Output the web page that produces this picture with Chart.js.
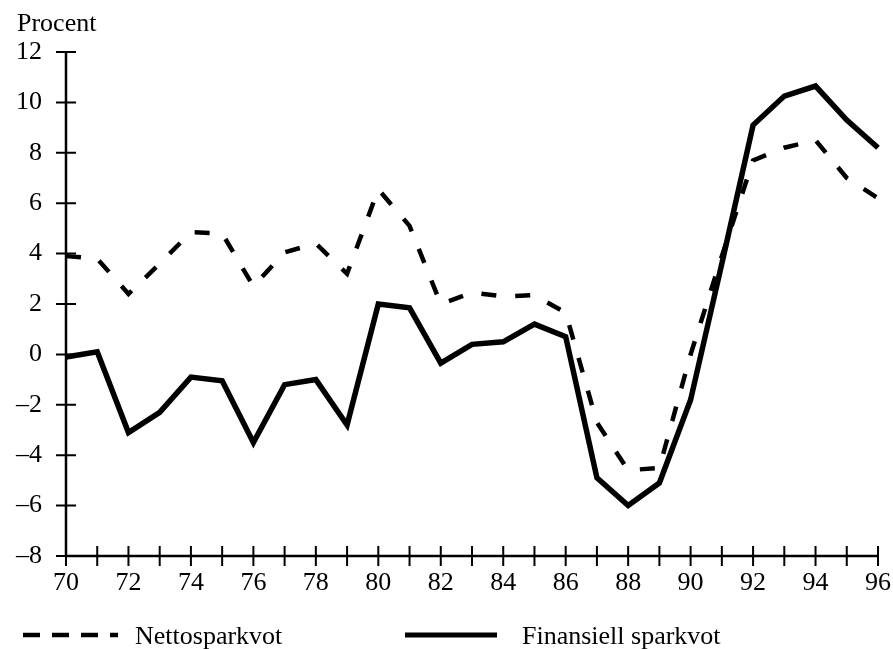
<!DOCTYPE html>
<html>
<head>
<meta charset="utf-8">
<script src="https://cdn.jsdelivr.net/npm/chart.js@4/dist/chart.umd.min.js"></script>
<style>
  html, body { margin: 0; padding: 0; background: #ffffff; }
  #wrap { width: 893px; height: 649px; position: relative; }
  canvas { display: block; }
</style>
</head>
<body>
<div id="wrap"><canvas id="c" width="893" height="649"></canvas></div>
<script>
// ---- Data ----
const years = ['70','71','72','73','74','75','76','77','78','79','80','81','82','83','84','85','86','87','88','89','90','91','92','93','94','95','96'];
const nettosparkvot = [3.9, 3.8, 2.4, 3.6, 4.85, 4.8, 2.7, 4.05, 4.4, 3.2, 6.55, 5.1, 2.0, 2.45, 2.3, 2.35, 1.65, -2.7, -4.6, -4.5, 0.0, 3.9, 7.7, 8.2, 8.5, 7.0, 6.2];
const finansiellSparkvot = [-0.1, 0.1, -3.1, -2.3, -0.9, -1.05, -3.5, -1.2, -1.0, -2.8, 2.0, 1.85, -0.35, 0.4, 0.5, 1.2, 0.7, -4.9, -6.0, -5.1, -1.8, 3.6, 9.1, 10.25, 10.65, 9.3, 8.2];
const seriesNames = ['Nettosparkvot', 'Finansiell sparkvot'];
const yTicks = [-8, -6, -4, -2, 0, 2, 4, 6, 8, 10, 12];
const yTitle = 'Procent';

const FONT = '"Liberation Serif", "Times New Roman", serif';

const axesPlugin = {
  id: 'axesPlugin',
  afterDraw(chart) {
    const ctx = chart.ctx;
    const xs = chart.scales.x, ys = chart.scales.y;
    const left = chart.chartArea.left, bottom = chart.chartArea.bottom;
    const top = ys.getPixelForValue(yTicks[yTicks.length - 1]);
    const right = xs.getPixelForValue(years.length - 1);
    ctx.save();
    ctx.strokeStyle = '#000';
    ctx.lineCap = 'butt';
    // axis lines
    ctx.lineWidth = 2.5;
    ctx.beginPath();
    ctx.moveTo(left, top); ctx.lineTo(left, bottom);
    ctx.moveTo(left, bottom); ctx.lineTo(right, bottom);
    ctx.stroke();
    // cross ticks
    ctx.lineWidth = 2;
    ctx.beginPath();
    yTicks.forEach(v => {
      const y = ys.getPixelForValue(v);
      ctx.moveTo(left - 10, y); ctx.lineTo(left + 10, y);
    });
    years.forEach((_, i) => {
      const x = xs.getPixelForValue(i);
      ctx.moveTo(x, bottom - 10); ctx.lineTo(x, bottom + 10);
    });
    ctx.stroke();
    // y title
    ctx.fillStyle = '#000';
    ctx.font = '26px ' + FONT;
    ctx.textAlign = 'left';
    ctx.textBaseline = 'alphabetic';
    ctx.fillText(yTitle, 17, 31);
    // legend
    const ly = 635;
    ctx.lineWidth = 4.5;
    ctx.setLineDash([17, 12]);
    ctx.beginPath(); ctx.moveTo(23, ly); ctx.lineTo(118, ly); ctx.stroke();
    ctx.setLineDash([]);
    ctx.lineWidth = 5;
    ctx.beginPath(); ctx.moveTo(405, ly); ctx.lineTo(497, ly); ctx.stroke();
    ctx.fillText(seriesNames[0], 135, 644);
    ctx.fillText(seriesNames[1], 522, 644);
    ctx.restore();
  }
};

new Chart(document.getElementById('c'), {
  type: 'line',
  data: {
    labels: years,
    datasets: [
      {
        label: seriesNames[0],
        data: nettosparkvot,
        borderColor: '#000',
        borderWidth: 4.5,
        borderDash: [15, 19],
        borderCapStyle: 'butt',
        borderJoinStyle: 'miter',
        pointRadius: 0,
        tension: 0,
        fill: false,
        clip: false,
        order: 2
      },
      {
        label: seriesNames[1],
        data: finansiellSparkvot,
        borderColor: '#000',
        borderWidth: 5.5,
        borderCapStyle: 'butt',
        borderJoinStyle: 'miter',
        pointRadius: 0,
        tension: 0,
        fill: false,
        clip: false,
        order: 1
      }
    ]
  },
  options: {
    responsive: false,
    animation: false,
    devicePixelRatio: 1,
    layout: { padding: { top: 52, right: 15, left: 0, bottom: 0 } },
    plugins: { legend: { display: false }, tooltip: { enabled: false }, title: { display: false } },
    scales: {
      x: {
        type: 'category',
        offset: false,
        grid: { display: false, drawTicks: false },
        border: { display: false },
        afterFit(scale) { scale.height = 93; scale.paddingLeft = 0; scale.paddingRight = 0; },
        ticks: {
          autoSkip: false,
          maxRotation: 0,
          minRotation: 0,
          padding: 12,
          color: '#000',
          font: { family: FONT, size: 26 },
          callback(value, index) { return index % 2 === 0 ? years[index] : ''; }
        }
      },
      y: {
        min: -8,
        max: 12,
        grid: { display: false, drawTicks: false },
        border: { display: false },
        afterFit(scale) { scale.width = 66; scale.paddingTop = 0; scale.paddingBottom = 0; },
        afterBuildTicks(scale) { scale.ticks = yTicks.map(v => ({ value: v })); },
        ticks: {
          padding: 24,
          color: '#000',
          font: { family: FONT, size: 26 },
          callback(value) { return value < 0 ? '\u2013' + Math.abs(value) : String(value); }
        }
      }
    }
  },
  plugins: [axesPlugin]
});
</script>
</body>
</html>
